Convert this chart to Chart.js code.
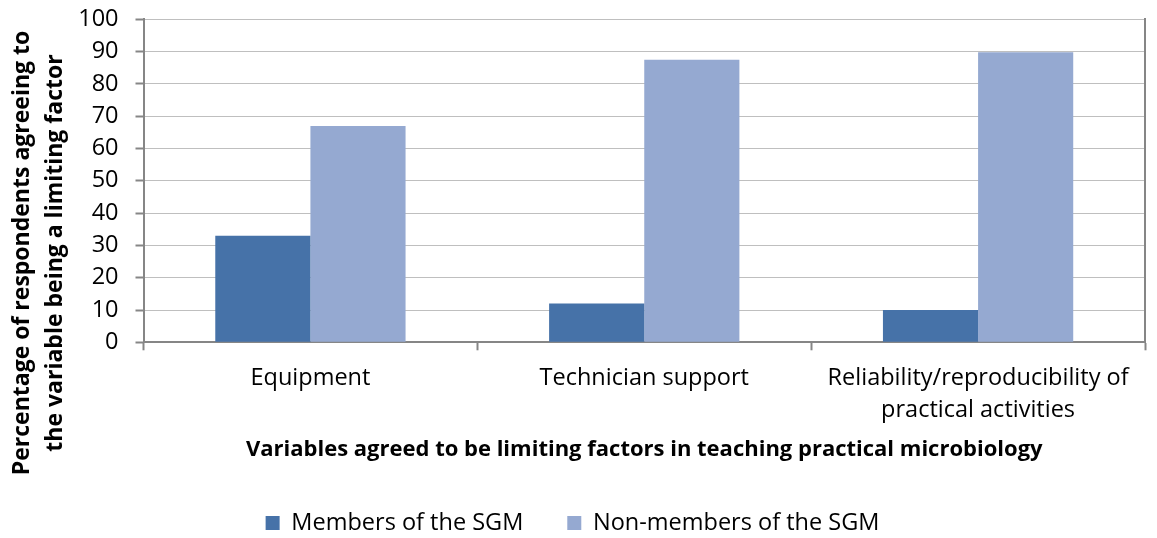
<!DOCTYPE html>
<html><head><meta charset="utf-8">
<script src="https://cdn.jsdelivr.net/npm/chart.js@4/dist/chart.umd.min.js"></script>
<style>html,body{margin:0;padding:0;background:#fff}#wrap{width:1157px;height:538px}</style>
</head><body><div id="wrap"><canvas id="c" width="1157" height="538"></canvas></div>
<script>
// ---- data ----
const categories = [["Equipment"], ["Technician support"], ["Reliability/reproducibility of", "practical activities"]];
const seriesLabels = ["Members of the SGM", "Non-members of the SGM"];
const membersSGM = [33, 12, 10];
const nonMembersSGM = [67, 87.5, 89.8];
const yMin = 0, yMax = 100, yStep = 10;
const xAxisTitle = "Variables agreed to be limiting factors in teaching practical microbiology";
const yAxisTitle = ["Percentage of respondents agreeing to", "the variable being a limiting factor"];

// ---- style / layout ----
const FONT = '"Open Sans", sans-serif';
const tickSize = 23.5;
const legendSize = 23.5;
const legendPad = 44;
const legendBottomPad = -6.75;
const areaBottom = 342.3;
const xH = 538 - legendBottomPad - (legendSize + legendPad + 10) - areaBottom;
const xTitleY = 450;
const xTitleSize = 22;

const yTitlePlugin = {
  id: 'yTitle',
  afterDraw(chart) {
    const ctx = chart.ctx;
    ctx.save();
    ctx.font = 'bold 23px ' + FONT;
    ctx.fillStyle = '#000';
    ctx.textAlign = 'center';
    ctx.textBaseline = 'middle';
    ctx.translate(22, 253);
    ctx.rotate(-Math.PI / 2);
    yAxisTitle.forEach((t, i) => ctx.fillText(t, 0, i * 33));
    ctx.restore();
  }
};

new Chart(document.getElementById('c'), {
  type: 'bar',
  data: {
    labels: categories,
    datasets: [
      { label: seriesLabels[0], data: membersSGM, backgroundColor: '#4672A8' },
      { label: seriesLabels[1], data: nonMembersSGM, backgroundColor: '#95A9D1' }
    ]
  },
  plugins: [yTitlePlugin],
  options: {
    responsive: false,
    animation: false,
    devicePixelRatio: 1,
    layout: { padding: { left: 0, right: 12, top: 19.3, bottom: legendBottomPad } },
    datasets: { bar: { categoryPercentage: 0.57, barPercentage: 1.0 } },
    plugins: {
      legend: {
        position: 'bottom',
        labels: {
          boxWidth: 14, boxHeight: 14, padding: legendPad,
          color: '#000', font: { family: FONT, size: legendSize }
        }
      },
      tooltip: { enabled: false }
    },
    scales: {
      x: {
        grid: { display: true, drawOnChartArea: false, tickLength: 8, tickColor: '#868686', tickWidth: 2 },
        border: { display: true, color: '#868686', width: 2 },
        ticks: { color: '#000', padding: 12, font: { family: FONT, size: tickSize, lineHeight: 1.35 }, maxRotation: 0 },
        title: {
          display: true, text: xAxisTitle, color: '#000',
          font: { family: FONT, size: xTitleSize, weight: 'bold', lineHeight: 1.2 },
          padding: { top: 0, bottom: (areaBottom + xH) - xTitleY - xTitleSize * 0.6 }
        },
        afterFit(s) { s.height = xH; s.paddingLeft = 0; s.paddingRight = 0; }
      },
      y: {
        min: yMin, max: yMax,
        ticks: { stepSize: yStep, color: '#000', padding: 17, font: { family: FONT, size: tickSize } },
        grid: { color: '#BFBFBF', lineWidth: 1, tickLength: 8, tickColor: '#868686', tickWidth: 2 },
        border: { display: true, color: '#868686', width: 2 },
        afterFit(s) { s.width = 143.5; s.paddingTop = 0; s.paddingBottom = 0; }
      },
      y2: {
        position: 'right', min: yMin, max: yMax,
        ticks: { display: false },
        grid: { display: false },
        border: { display: true, color: '#868686', width: 2 },
        afterFit(s) { s.width = 0; s.paddingTop = 0; s.paddingBottom = 0; }
      }
    }
  }
});
</script>
</body></html>
